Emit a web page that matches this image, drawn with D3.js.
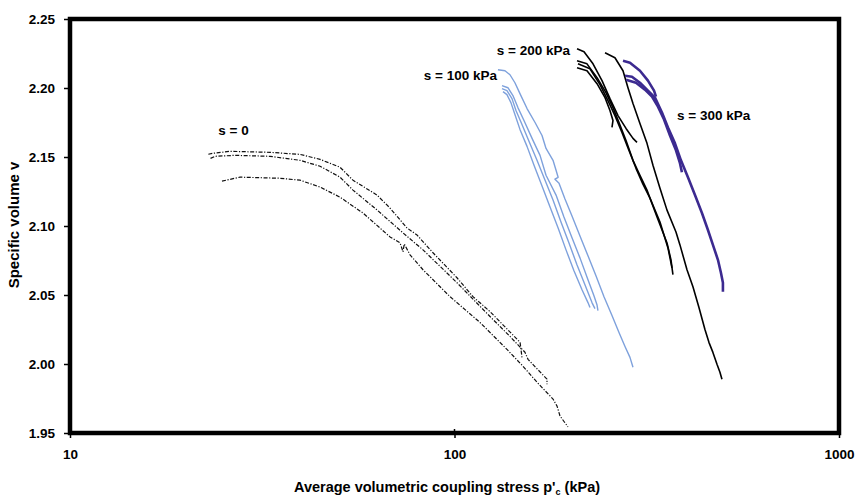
<!DOCTYPE html>
<html><head><meta charset="utf-8">
<script src="https://cdn.jsdelivr.net/npm/d3@7"></script>
<style>
body{margin:0;background:#fff;}
text{font-family:"Liberation Sans",Arial,sans-serif;font-weight:bold;}
</style></head>
<body><svg id="c" width="855" height="497"></svg>
<script>
// ---- data: [p'c (kPa), specific volume v] ----
const s0Curves = [
 [[22.9,2.1520],[23.55,2.1527],[26.07,2.1541],[33.13,2.1534],[39.65,2.1519],[44.70,2.1483],[50.38,2.1426],[54.45,2.1332],[62.88,2.1224],[67.96,2.1130],[75.24,2.0986],[79.88,2.0935],[87.93,2.0806],[101.5,2.0625],[111.7,2.0488],[123.7,2.0380],[148.1,2.0157],[149.8,2.0048]],
 [[23.2,2.1490],[23.83,2.1505],[26.86,2.1512],[33.13,2.1505],[39.65,2.1476],[44.70,2.1433],[50.38,2.1354],[54.45,2.1260],[62.88,2.1116],[73.47,2.0950],[82.82,2.0827],[101.5,2.0589],[123.7,2.0344],[139.4,2.0200],[152.5,2.0085],[155.3,2.0034],[174.0,1.9890],[174.0,1.9854]],
 [[24.85,2.1325],[27.68,2.1354],[35.18,2.1346],[39.65,2.1332],[44.70,2.1282],[50.38,2.1209],[57.81,2.1094],[67.96,2.0921],[72.16,2.0878],[73.47,2.0813],[74.0,2.0870],[76.62,2.0791],[82.82,2.0683],[97.34,2.0488],[116.5,2.0301],[136.9,2.0106],[150.7,1.9984],[163.9,1.9868],[180.4,1.9746],[184.8,1.9695],[188.1,1.9623],[197.3,1.9544]]
];
const s100Curves = [
 [[129.7,2.2132],[135.3,2.2125],[139.4,2.2096],[143.6,2.2038],[148.0,2.1959],[154.4,2.1851],[162.0,2.1750],[168.9,2.1656],[173.0,2.1562],[180.4,2.1476],[183.7,2.1404],[186.0,2.1353],[182.5,2.1339],[187.0,2.1310],[193.8,2.1195],[202.1,2.1072],[212.0,2.0928],[222.4,2.0784],[233.3,2.0639],[244.8,2.0488],[256.8,2.0351],[267.8,2.0228],[277.6,2.0127],[286.0,2.0048],[291.2,1.9976]],
 [[132.9,2.2017],[137.7,2.2002],[141.9,2.1945],[146.2,2.1858],[151.6,2.1764],[159.1,2.1635],[166.9,2.1512],[173.0,2.1368],[183.7,2.1224],[192.6,2.1065],[202.1,2.0914],[212.0,2.0769],[222.4,2.0611],[230.5,2.0495],[234.7,2.0430],[236.1,2.0387]],
 [[132.9,2.1995],[136.9,2.1981],[141.1,2.1923],[144.5,2.1837],[149.8,2.1736],[156.3,2.1613],[163.9,2.1476],[172.0,2.1332],[180.4,2.1188],[189.2,2.1029],[198.5,2.0877],[208.2,2.0719],[218.4,2.0575],[227.8,2.0445],[231.9,2.0401]],
 [[133.7,2.1974],[136.9,2.1952],[140.2,2.1894],[143.6,2.1808],[148.0,2.1700],[154.4,2.1577],[161.0,2.1440],[168.9,2.1289],[177.2,2.1137],[186.0,2.0986],[195.0,2.0827],[204.5,2.0676],[214.6,2.0538],[222.4,2.0445],[225.1,2.0409]]
];
const s200Curves = [
 [[208.3,2.2284],[217.2,2.2262],[229.2,2.2175],[241.9,2.2053],[253.7,2.1923],[266.2,2.1800],[279.3,2.1707],[291.2,2.1635],[298.3,2.1606]],
 [[208.3,2.2197],[221.1,2.2175],[234.8,2.2075],[247.7,2.1966],[258.3,2.1858],[267.8,2.1750],[279.3,2.1620],[291.2,2.1476],[303.6,2.1368],[316.7,2.1260],[336.3,2.1065],[357.0,2.0877],[365.6,2.0755],[369.9,2.0647]],
 [[208.3,2.2147],[221.1,2.2125],[234.8,2.2031],[246.3,2.1930],[253.7,2.1837],[258.3,2.1764],[256.8,2.1714]],
 [[209.5,2.2175],[225.1,2.2139],[239.0,2.2024],[250.7,2.1909],[261.4,2.1800],[272.6,2.1678],[284.3,2.1548],[296.5,2.1418],[309.1,2.1303],[322.4,2.1202],[342.3,2.1029],[359.1,2.0841],[367.8,2.0697]],
 [[246.3,2.2255],[261.4,2.2219],[274.3,2.2125],[282.6,2.2002],[291.2,2.1887],[303.6,2.1743],[316.7,2.1599],[328.2,2.1440],[342.3,2.1274],[357.0,2.1115],[376.7,2.0957],[385.8,2.0863],[402.4,2.0683],[417.0,2.0560],[432.3,2.0409],[448.1,2.0250],[458.9,2.0157],[470.0,2.0084],[481.6,1.9998],[490.2,1.9940],[496.1,1.9889]]
];
const s300Curves = [
 [[274.3,2.2197],[286.0,2.2183],[303.6,2.2125],[318.5,2.2053],[330.3,2.1981],[334.2,2.1938]],
 [[277.6,2.2089],[289.4,2.2082],[303.6,2.2038],[318.5,2.1981],[332.2,2.1930],[346.4,2.1822],[359.1,2.1714],[374.5,2.1599],[388.1,2.1476],[404.7,2.1353],[422.1,2.1224],[440.1,2.1094],[456.2,2.0971],[470.0,2.0863],[484.3,2.0755],[493.1,2.0661],[499.0,2.0589],[499.0,2.0524]],
 [[279.3,2.2060],[296.5,2.2038],[312.8,2.1988],[326.3,2.1938],[338.2,2.1865],[350.7,2.1772],[363.4,2.1656],[376.7,2.1548],[385.8,2.1455],[390.4,2.1390]]
];
const seriesLabels = ["s = 0","s = 100 kPa","s = 200 kPa","s = 300 kPa"];
const labelAnchors = [[24.3,2.1660],[129.0,2.2058],[199.7,2.2239],[379,2.1768]];
const xTicks = [10,100,1000];
const yTicks = [1.95,2.00,2.05,2.10,2.15,2.20,2.25];
const xTitle = "Average volumetric coupling stress p'";
const yTitle = "Specific volume v";

// ---- drawing ----
const svg = d3.select("#c");
const L=70,R=839,T=19,B=433;
const x = d3.scaleLog().domain([10,1000]).range([L,R]);
const y = d3.scaleLinear().domain([1.95,2.25]).range([B,T]);
const line = d3.line().x(d=>x(d[0])).y(d=>y(d[1]));

const gy = svg.append("g").attr("transform",`translate(${L},0)`)
  .call(d3.axisLeft(y).tickValues(yTicks).tickFormat(d3.format(".2f")).tickSize(6).tickPadding(9));
const gx = svg.append("g").attr("transform",`translate(0,${B})`)
  .call(d3.axisBottom(x).tickValues(xTicks).tickFormat(d3.format("d")).tickSize(5).tickPadding(11));
[gy,gx].forEach(g=>{
  g.select(".domain").remove();
  g.selectAll(".tick line").attr("stroke","#000").attr("stroke-width",1.5);
  g.selectAll(".tick text").attr("font-size",13.5).attr("fill","#000");
});
svg.append("line").attr("x1",x(100)).attr("x2",x(100)).attr("y1",B-4).attr("y2",B).attr("stroke","#000").attr("stroke-width",1.5);

function drawGroup(curves,color,width,dash){
  svg.append("g").selectAll("path").data(curves).join("path")
    .attr("d",line).attr("fill","none").attr("stroke",color)
    .attr("stroke-width",width).attr("stroke-linejoin","round")
    .attr("stroke-dasharray",dash);
}
drawGroup(s0Curves,"#111",1.2,"4,1.6,1.2,1.6");
drawGroup(s100Curves,"#7ea1dc",1.4,null);
drawGroup(s200Curves,"#000",1.6,null);
drawGroup(s300Curves,"#3c2a90",2.6,null);

svg.append("rect").attr("x",L).attr("y",T).attr("width",R-L).attr("height",B-T)
  .attr("fill","none").attr("stroke","#000").attr("stroke-width",4.5);

svg.append("g").selectAll("text").data(seriesLabels).join("text")
  .attr("x",(d,i)=>x(labelAnchors[i][0])).attr("y",(d,i)=>y(labelAnchors[i][1]))
  .attr("text-anchor",(d,i)=>(i===1||i===2)?"end":"start")
  .attr("font-size",13.5).attr("fill","#000").text(d=>d);

const xt = svg.append("text").attr("x",447).attr("y",492).attr("text-anchor","middle").attr("font-size",14.5).attr("fill","#000");
xt.append("tspan").text(xTitle);
xt.append("tspan").attr("font-size",9).attr("dy",3).text("c");
xt.append("tspan").attr("dy",-3).text(" (kPa)");

svg.append("text").attr("transform",`translate(19,225) rotate(-90)`).attr("text-anchor","middle")
  .attr("font-size",15).attr("fill","#000").text(yTitle);
</script></body></html>
